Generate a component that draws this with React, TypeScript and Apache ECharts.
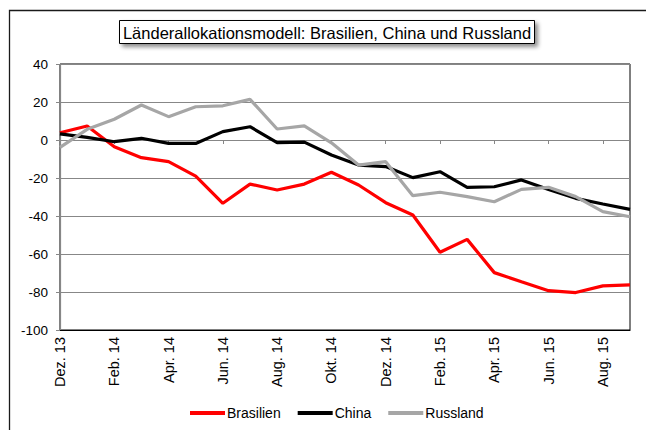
import React, { useEffect, useRef } from "react";
import * as echarts from "echarts";

const categories = [
  "Dez. 13", "Jan. 14", "Feb. 14", "Mrz. 14", "Apr. 14", "Mai. 14", "Jun. 14", "Jul. 14",
  "Aug. 14", "Sep. 14", "Okt. 14", "Nov. 14", "Dez. 14", "Jan. 15", "Feb. 15", "Mrz. 15",
  "Apr. 15", "Mai. 15", "Jun. 15", "Jul. 15", "Aug. 15", "Sep. 15",
];
const brasilien = [3.8, 7.4, -3.5, -9.3, -11.4, -19, -33.3, -23.2, -26.3, -23.2, -17, -23.7, -33, -39.5, -59.1, -52.3, -69.8, -74.6, -79.3, -80.3, -76.8, -76.3];
const china = [3.2, 1.4, -0.9, 0.9, -1.8, -1.8, 4.4, 7, -1.4, -1.1, -7.9, -13.2, -14, -19.8, -16.7, -24.9, -24.6, -21, -26, -30.7, -33.7, -36.5];
const russland = [-3.9, 5.6, 10.9, 18.4, 12.3, 17.5, 18, 21.4, 5.8, 7.4, -1.5, -13.2, -11.4, -29.3, -27.5, -29.8, -32.5, -26, -24.9, -29.8, -37.7, -40.4];
const titleText = "Länderallokationsmodell: Brasilien, China und Russland";

const FONT = "'Liberation Sans', Arial, sans-serif";

export default function App() {
  const ref = useRef<HTMLDivElement>(null);
  useEffect(() => {
    if (!ref.current) return;
    const chart = echarts.init(ref.current, undefined, { renderer: "svg" });
    const mk = (name: string, data: number[], color: string) => ({
      name,
      type: "line",
      data,
      xAxisIndex: 0,
      showSymbol: false,
      symbol: "none",
      lineStyle: { color, width: 3.2 },
      itemStyle: { color },
    });
    chart.setOption({
      animation: false,
      backgroundColor: "#fff",
      textStyle: { fontFamily: FONT },
      grid: {
        left: 60, top: 64, right: 16, bottom: 100,
        show: true, borderColor: "#000", borderWidth: 1, backgroundColor: "transparent",
      },
      legend: {
        left: 185, top: 401,
        icon: "rect", itemWidth: 35, itemHeight: 4, itemGap: 17,
        textStyle: { fontFamily: FONT, fontSize: 14, color: "#000", padding: [0, 0, 0, -3] },
        data: ["Brasilien", "China", "Russland"],
      },
      xAxis: [
        {
          type: "category", data: categories, boundaryGap: false, position: "bottom",
          axisLine: { onZero: false, lineStyle: { color: "#000", width: 1.2 } },
          axisTick: { show: false },
          axisLabel: { interval: 1, rotate: 90, margin: 7, fontSize: 14.5, color: "#000", fontFamily: FONT },
          splitLine: { show: false },
        },
        {
          type: "category", data: categories, boundaryGap: false, position: "bottom",
          axisLine: { show: true, onZero: true, lineStyle: { color: "#878787", width: 1 } },
          axisTick: { show: true, interval: 1, length: 4, lineStyle: { color: "#878787" } },
          axisLabel: { show: false },
          splitLine: { show: false },
        },
      ],
      yAxis: {
        type: "value", min: -100, max: 40, interval: 20,
        axisLine: { show: true, lineStyle: { color: "#878787", width: 1.2 } },
        axisTick: { show: true, length: 4, lineStyle: { color: "#878787" } },
        axisLabel: { margin: 12, fontSize: 13.5, color: "#000", fontFamily: FONT },
        splitLine: { show: true, lineStyle: { color: "#878787", width: 1 } },
      },
      series: [
        mk("Brasilien", brasilien, "#ff0000"),
        mk("China", china, "#000000"),
        mk("Russland", russland, "#a6a6a6"),
      ],
      graphic: [
        {
          type: "rect", z: -10, silent: true,
          shape: { x: 9.5, y: 10.5, width: 700, height: 500 },
          style: { fill: "none", stroke: "#1a1a1a", lineWidth: 1.3 },
        },
        {
          type: "rect", z: 10,
          shape: { x: 119.5, y: 20.5, width: 415, height: 23 },
          style: {
            fill: "#fff", stroke: "#000", lineWidth: 1,
            shadowBlur: 4, shadowOffsetX: 3, shadowOffsetY: 3, shadowColor: "rgba(0,0,0,0.45)",
          },
        },
        {
          type: "text", z: 11, x: 327, y: 32.5,
          style: {
            text: titleText, fill: "#000", font: `16.5px ${FONT}`,
            align: "center", verticalAlign: "middle",
          },
        },
      ],
    });
    return () => chart.dispose();
  }, []);
  return (
    <div
      ref={ref}
      style={{ position: "fixed", left: 0, top: 0, width: 646, height: 430, background: "#fff" }}
    />
  );
}
